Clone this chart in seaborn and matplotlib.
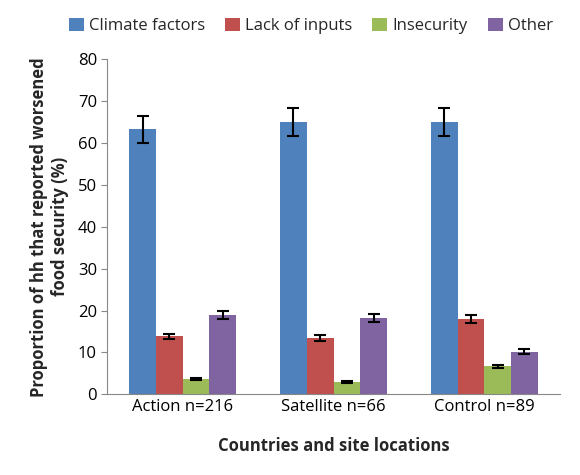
import pandas as pd
import numpy as np
import matplotlib.pyplot as plt
import seaborn as sns

# Data
sites = ["Action n=216", "Satellite n=66", "Control n=89"]
causes = ["Climate factors", "Lack of inputs", "Insecurity", "Other"]
climate = [63.3, 65.0, 65.0]
inputs = [13.8, 13.5, 18.0]
insecurity = [3.7, 3.0, 6.7]
other = [19.0, 18.2, 10.2]
climate_err = [3.2, 3.3, 3.3]
inputs_err = [0.7, 0.7, 0.9]
insecurity_err = [0.3, 0.2, 0.4]
other_err = [1.0, 1.0, 0.6]

colors = ["#4F81BD", "#C0504D", "#9BBB59", "#8064A2"]

vals = [climate, inputs, insecurity, other]
errs = [climate_err, inputs_err, insecurity_err, other_err]
rows = []
for c, v, e in zip(causes, vals, errs):
    for s, vi, ei in zip(sites, v, e):
        rows.append({"site": s, "cause": c, "value": vi, "err": ei})
df = pd.DataFrame(rows)

sns.set_style("white")
plt.rcParams["font.family"] = ["Open Sans", "DejaVu Sans"]

fig, ax = plt.subplots(figsize=(5.8, 4.75), dpi=100)
fig.subplots_adjust(left=0.185, right=0.965, top=0.875, bottom=0.17)

sns.barplot(data=df, x="site", y="value", hue="cause", hue_order=causes,
            palette=colors, width=0.71, gap=0, errorbar=None, ax=ax,
            saturation=1, linewidth=0)

# error bars at each bar centre
for container, e in zip(ax.containers, errs):
    for patch, ei in zip(container, e):
        xc = patch.get_x() + patch.get_width() / 2
        ax.errorbar(xc, patch.get_height(), yerr=ei, color="black",
                    capsize=4, elinewidth=1.5, capthick=1.5)

ax.set_ylim(0, 80)
ax.set_xlim(-0.5, 2.5)
ax.set_yticks(range(0, 81, 10))
ax.tick_params(axis="both", labelsize=12, length=0, labelcolor="black")
ax.set_xticks([0, 1, 2])
ax.set_xticks([-0.5, 0.5, 1.5, 2.5], minor=True)
ax.tick_params(axis="x", which="minor", length=5, color="#888888", direction="out")
ax.tick_params(axis="y", length=4, color="#888888", direction="out", left=True)
for side in ["top", "right"]:
    ax.spines[side].set_visible(False)
for side in ["left", "bottom"]:
    ax.spines[side].set_color("#888888")

ax.set_xlabel("Countries and site locations", fontsize=12, fontweight="bold", labelpad=16)
ax.set_ylabel("Proportion of hh that reported worsened\nfood security (%)",
              fontsize=12, fontweight="bold", labelpad=6)

ax.legend(loc="lower center", bbox_to_anchor=(0.45, 1.03), ncol=4, frameon=False,
          fontsize=12, handlelength=0.9, handleheight=0.9, columnspacing=1.2,
          handletextpad=0.3)

fig.savefig("out.png", dpi=100)
